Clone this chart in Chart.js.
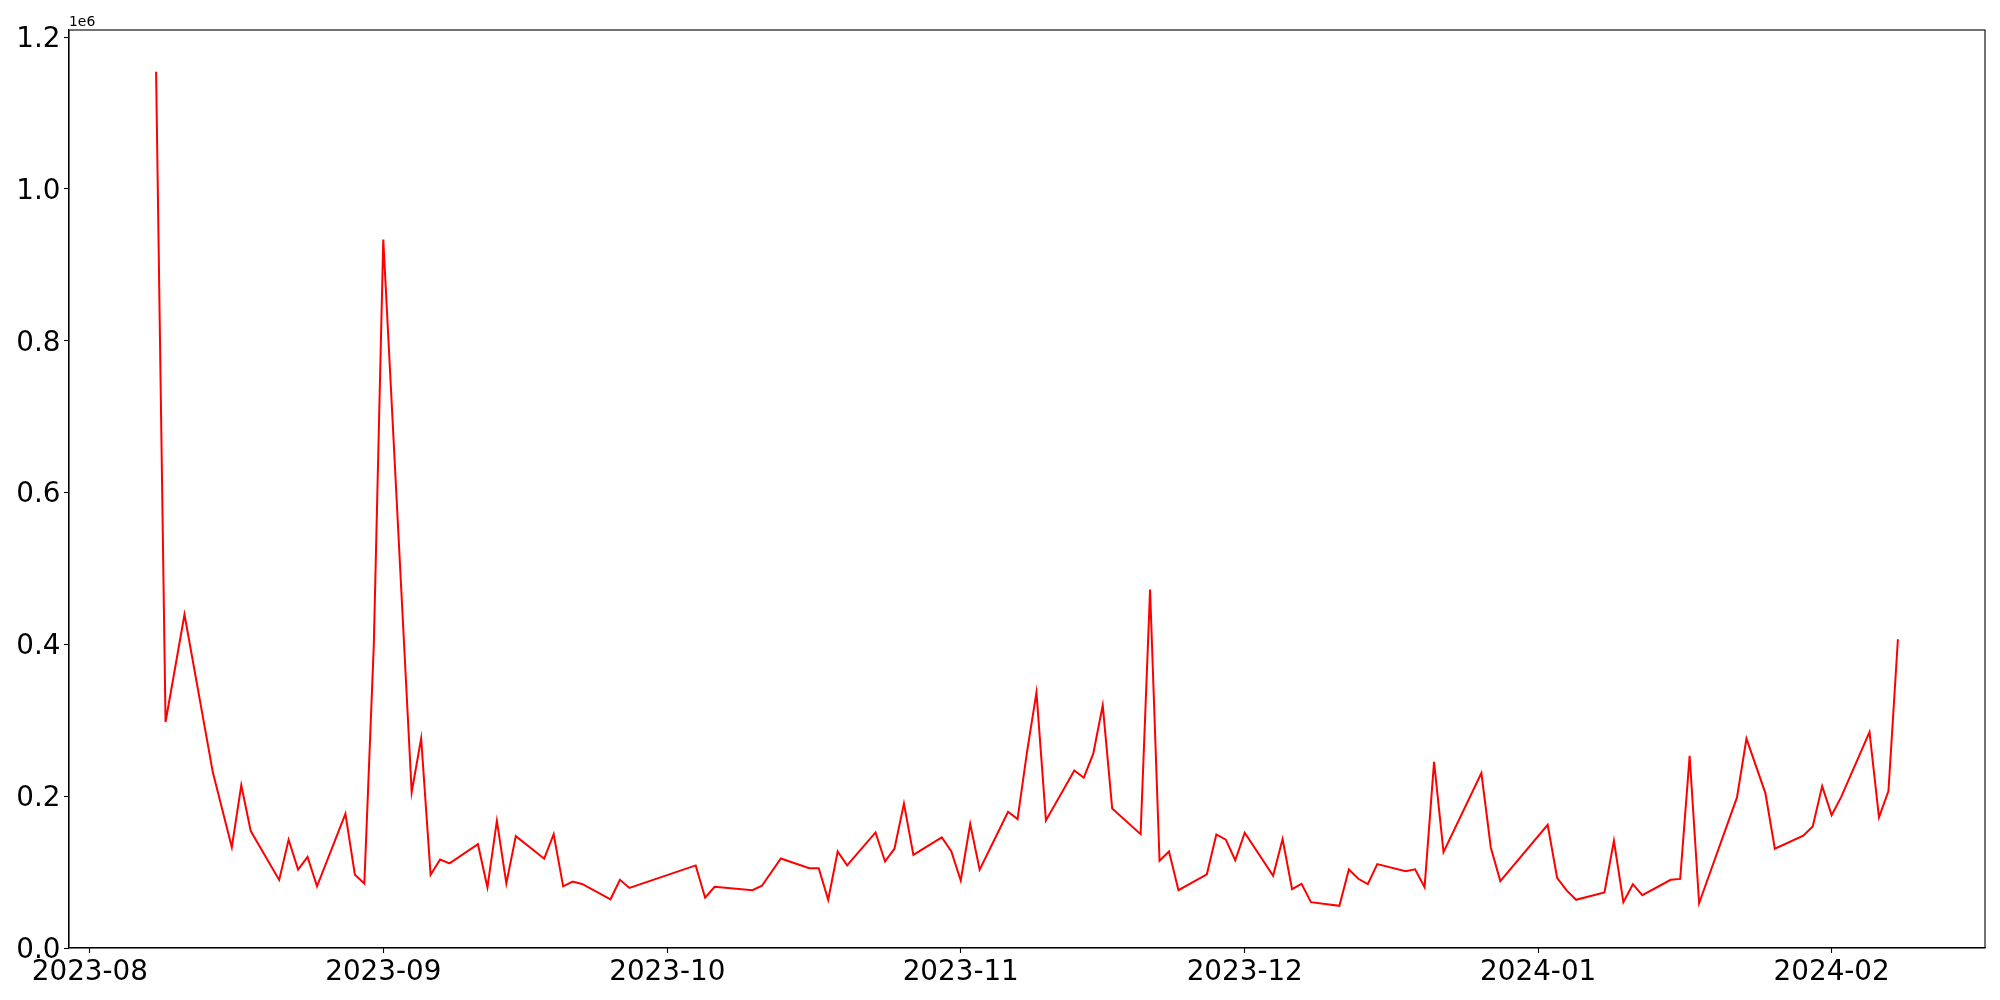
<!DOCTYPE html>
<html>
<head>
<meta charset="utf-8">
<script src="https://cdn.jsdelivr.net/npm/chart.js@4/dist/chart.umd.min.js"></script>
<style>
  html, body { margin: 0; padding: 0; background: #ffffff; }
  #wrap { width: 2000px; height: 1000px; }
  canvas { display: block; }
</style>
</head>
<body>
<div id="wrap"><canvas id="c" width="2000" height="1000"></canvas></div>
<script>
// ---- Data ----
const dates = [
  "2023-08-08","2023-08-09","2023-08-11","2023-08-14","2023-08-16","2023-08-17","2023-08-18",
  "2023-08-21","2023-08-22","2023-08-23","2023-08-24","2023-08-25","2023-08-28","2023-08-29",
  "2023-08-30","2023-08-31","2023-09-01","2023-09-04","2023-09-05","2023-09-06","2023-09-07",
  "2023-09-08","2023-09-11","2023-09-12","2023-09-13","2023-09-14","2023-09-15","2023-09-18",
  "2023-09-19","2023-09-20","2023-09-21","2023-09-22","2023-09-25","2023-09-26","2023-09-27",
  "2023-10-04","2023-10-05","2023-10-06","2023-10-10","2023-10-11","2023-10-13","2023-10-16",
  "2023-10-17","2023-10-18","2023-10-19","2023-10-20","2023-10-23","2023-10-24","2023-10-25",
  "2023-10-26","2023-10-27","2023-10-30","2023-10-31","2023-11-01","2023-11-02","2023-11-03",
  "2023-11-06","2023-11-07","2023-11-08","2023-11-09","2023-11-10","2023-11-13","2023-11-14",
  "2023-11-15","2023-11-16","2023-11-17","2023-11-20","2023-11-21","2023-11-22","2023-11-23",
  "2023-11-24","2023-11-27","2023-11-28","2023-11-29","2023-11-30","2023-12-01","2023-12-04",
  "2023-12-05","2023-12-06","2023-12-07","2023-12-08","2023-12-11","2023-12-12","2023-12-13",
  "2023-12-14","2023-12-15","2023-12-18","2023-12-19","2023-12-20","2023-12-21","2023-12-22",
  "2023-12-26","2023-12-27","2023-12-28","2024-01-02","2024-01-03","2024-01-04","2024-01-05",
  "2024-01-08","2024-01-09","2024-01-10","2024-01-11","2024-01-12","2024-01-15","2024-01-16",
  "2024-01-17","2024-01-18","2024-01-22","2024-01-23","2024-01-25","2024-01-26","2024-01-29",
  "2024-01-30","2024-01-31","2024-02-01","2024-02-02","2024-02-05","2024-02-06","2024-02-07",
  "2024-02-08"
];
const values = [
  1154500, 297800, 439300, 231100, 132800, 214500, 154000,
  89700, 142700, 103200, 120000, 81300, 176700, 96500,
  85000, 400000, 933500, 205400, 276000, 96400, 116600,
  111400, 136700, 80000, 167600, 85000, 147400, 117700,
  149900, 81200, 87500, 84400, 64200, 89900, 79200,
  108800, 66200, 80700, 76200, 82000, 118000, 105200,
  105200, 63500, 127200, 108800, 152300, 114000, 130800,
  190200, 122700, 145800, 127700, 89000, 163300, 103100,
  179500, 169900, 258200, 336800, 168100, 234000, 224400,
  256000, 319700, 183900, 150000, 472200, 115000, 127200,
  76200, 97100, 149600, 142800, 115600, 151800, 95100,
  143500, 77600, 84600, 60400, 55600, 103500, 91200,
  84100, 110500, 101300, 103700, 80200, 245200, 126300,
  230500, 132100, 88100, 162400, 92500, 75800, 63500,
  73200, 141300, 60400, 84100, 69600, 89900, 91000,
  253200, 59000, 198400, 275800, 204100, 130800, 147900,
  160200, 213300, 175100, 198800, 284500, 172000, 206700,
  406700
];
const monthTicks = ["2023-08","2023-09","2023-10","2023-11","2023-12","2024-01","2024-02"];
const yTickValues = [0, 200000, 400000, 600000, 800000, 1000000, 1200000];
const yExponentLabel = "1e6";

// ---- helpers ----
const DAY = 86400000;
function toDay(s) {
  const p = s.split("-").map(Number);
  return Date.UTC(p[0], p[1] - 1, p[2] || 1) / DAY;
}
function fmtMonth(d) {
  const dt = new Date(d * DAY);
  const m = dt.getUTCMonth() + 1;
  return dt.getUTCFullYear() + "-" + (m < 10 ? "0" + m : m);
}

const points = dates.map((d, i) => ({ x: toDay(d), y: values[i] }));
const xs = points.map(p => p.x);
const xMinData = Math.min(...xs), xMaxData = Math.max(...xs);
const xMargin = 0.05 * (xMaxData - xMinData);
const yMaxData = Math.max(...values), yMinData = Math.min(...values);
const yTop = yMaxData + 0.05 * (yMaxData - yMinData);
const monthDays = monthTicks.map(toDay);

const FONT = "'DejaVu Sans', 'Liberation Sans', sans-serif";

const framePlugin = {
  id: 'frame',
  afterDraw(chart) {
    const { ctx, chartArea: a } = chart;
    ctx.save();
    ctx.strokeStyle = '#000000';
    ctx.lineWidth = 1.1;
    ctx.strokeRect(a.left, a.top, a.right - a.left, a.bottom - a.top);
    ctx.fillStyle = '#000000';
    ctx.font = "13.9px " + FONT;
    ctx.textAlign = 'left';
    ctx.textBaseline = 'alphabetic';
    ctx.fillText(yExponentLabel, a.left, a.top - 4.5);
    ctx.restore();
  }
};

new Chart(document.getElementById('c'), {
  type: 'line',
  data: {
    datasets: [{
      data: points,
      borderColor: '#ff0000',
      borderWidth: 2,
      pointRadius: 0,
      pointHoverRadius: 0,
      tension: 0,
      fill: false
    }]
  },
  options: {
    responsive: false,
    animation: false,
    devicePixelRatio: 1,
    layout: { padding: { top: 30, right: 15, left: 0, bottom: 0 } },
    plugins: { legend: { display: false }, tooltip: { enabled: false } },
    scales: {
      x: {
        type: 'linear',
        min: xMinData - xMargin,
        max: xMaxData + xMargin,
        afterBuildTicks(scale) {
          scale.ticks = monthDays.map(v => ({ value: v }));
        },
        afterFit(scale) { scale.height = 52; },
        grid: { display: true, drawOnChartArea: false, drawTicks: true, tickLength: 5, tickColor: '#000000', tickWidth: 1.1 },
        border: { display: true, color: '#000000', width: 1.1 },
        ticks: {
          autoSkip: false, maxRotation: 0, minRotation: 0, padding: 3,
          color: '#000000', font: { family: FONT, size: 27.8 },
          callback: (v) => fmtMonth(v)
        }
      },
      y: {
        type: 'linear',
        min: 0,
        max: yTop,
        afterBuildTicks(scale) {
          scale.ticks = yTickValues.map(v => ({ value: v }));
        },
        afterFit(scale) { scale.width = 69; },
        grid: { display: true, drawOnChartArea: false, drawTicks: true, tickLength: 5, tickColor: '#000000', tickWidth: 1.1 },
        border: { display: true, color: '#000000', width: 1.1 },
        ticks: {
          padding: 3.5, labelOffset: 2.5, color: '#000000', font: { family: FONT, size: 27.8 },
          callback: (v) => (v / 1e6).toFixed(1)
        }
      }
    }
  },
  plugins: [framePlugin]
});
</script>
</body>
</html>
